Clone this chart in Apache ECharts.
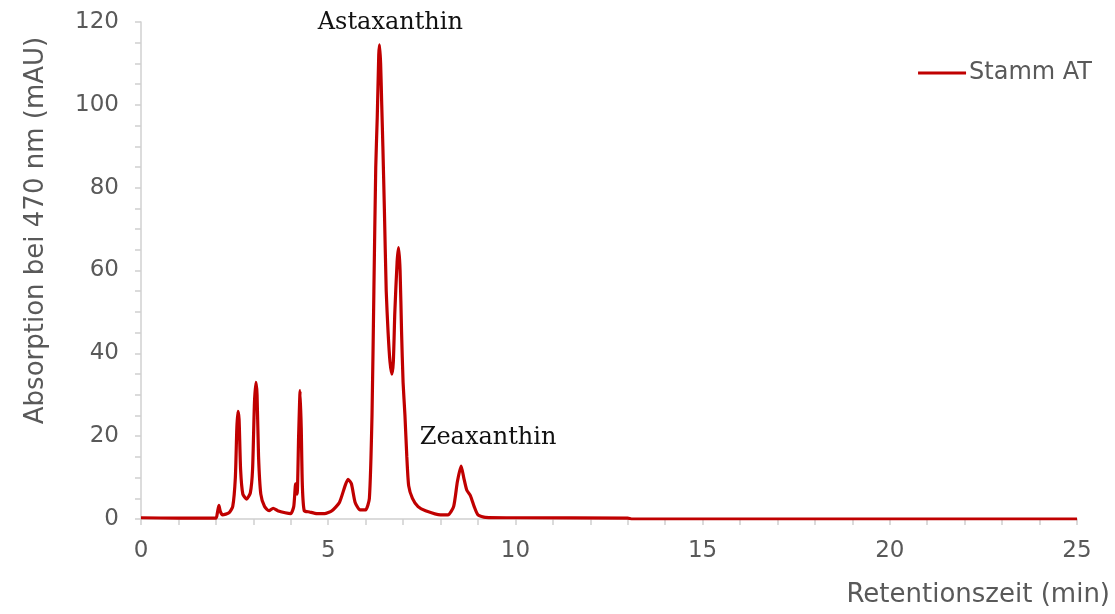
<!DOCTYPE html>
<html>
<head>
<meta charset="utf-8">
<script src="https://cdn.jsdelivr.net/npm/echarts@6/dist/echarts.min.js"></script>
<style>
  html, body { margin: 0; padding: 0; background: #fff; }
  #main { width: 1115px; height: 614px; }
</style>
</head>
<body>
<div id="main"></div>
<script>
// retention time (min) and absorption (mAU)
var times = [0, 1.0, 2.0, 2.04, 2.08, 2.12, 2.18, 2.35, 2.45, 2.52, 2.56, 2.59, 2.62, 2.66, 2.72, 2.82,
  2.92, 2.98, 3.03, 3.07, 3.10, 3.14, 3.2, 3.3, 3.42, 3.53, 3.65, 3.85, 4.0, 4.08, 4.13, 4.17,
  4.21, 4.25, 4.28, 4.31, 4.36, 4.5, 4.7, 4.9, 5.1, 5.3, 5.45, 5.53, 5.62, 5.72, 5.85, 6.0,
  6.1, 6.17, 6.22, 6.27, 6.31, 6.35, 6.37, 6.40, 6.43, 6.46, 6.5, 6.55, 6.6, 6.65, 6.70, 6.74,
  6.78, 6.84, 6.88, 6.92, 6.96, 7.0, 7.05, 7.1, 7.15, 7.25, 7.4, 7.6, 8.0, 8.2, 8.35, 8.45,
  8.55, 8.62, 8.7, 8.8, 8.9, 9.0, 9.2, 10, 13, 13.1, 25];
var absorb = [0.3, 0.2, 0.2, 1.5, 3.3, 1.8, 1.0, 1.5, 3, 10, 22, 26, 24, 12, 6, 4.8,
  6.3, 12, 28, 33, 30, 15, 6, 3, 2, 2.6, 2, 1.5, 1.3, 3, 8.5, 6,
  20, 31, 22, 8, 2, 1.7, 1.3, 1.3, 2, 4, 8, 9.6, 8.5, 4, 2.2, 2.2,
  5, 25, 55, 85, 97, 112, 114.5, 110, 100, 90, 75, 55, 45, 38, 35, 38,
  50, 62, 65.5, 60, 45, 33, 25, 15, 8, 5, 3, 2, 1, 1, 3, 9,
  12.8, 10, 7, 5.6, 3, 1, 0.4, 0.3, 0.2, 0, 0];
var seriesName = 'Stamm AT';
var peakNames = ['Astaxanthin', 'Zeaxanthin'];
var peakLabelPos = [[6.66, 119.8], [9.27, 19.6]];
var xTicks = [0, 5, 10, 15, 20, 25];
var yTicks = [0, 20, 40, 60, 80, 100, 120];

var points = times.map(function (t, i) { return [t, absorb[i]]; });
var grey = '#595959';
var axisGrey = '#d0d0d0';
var sans = 'DejaVu Sans';

var chart = echarts.init(document.getElementById('main'), null, { renderer: 'canvas' });
chart.setOption({
  animation: false,
  textStyle: { fontFamily: sans },
  grid: { left: 141, right: 38, top: 22, bottom: 95 },
  legend: {
    right: 18, top: 56,
    icon: 'rect', itemWidth: 48, itemHeight: 3, itemGap: 4,
    textStyle: { color: grey, fontSize: 24, fontFamily: sans, padding: [0, 0, 0, -2] },
    data: [seriesName]
  },
  xAxis: {
    type: 'value',
    min: xTicks[0], max: xTicks[xTicks.length - 1], interval: 5,
    name: 'Retentionszeit (min)',
    nameLocation: 'end', nameGap: 33,
    nameTextStyle: { color: grey, fontSize: 26, fontFamily: sans, align: 'right', verticalAlign: 'top', padding: [63, 0, 0, 0] },
    axisLine: { show: true, lineStyle: { color: axisGrey, width: 1.5 } },
    axisTick: { show: true, length: 6, lineStyle: { color: axisGrey, width: 1.5 } },
    minorTick: { show: true, splitNumber: 5, length: 6, lineStyle: { color: axisGrey, width: 1.5 } },
    splitLine: { show: false },
    axisLabel: { color: grey, fontSize: 23, margin: 21 }
  },
  yAxis: {
    type: 'value',
    min: yTicks[0], max: yTicks[yTicks.length - 1], interval: 20,
    name: 'Absorption bei 470 nm (mAU)',
    nameLocation: 'middle', nameGap: 92,
    nameTextStyle: { color: grey, fontSize: 26, fontFamily: sans, padding: [0, 0, 0, 80] },
    axisLine: { show: true, lineStyle: { color: axisGrey, width: 1.5 } },
    axisTick: { show: true, length: 6, lineStyle: { color: axisGrey, width: 1.5 } },
    minorTick: { show: true, splitNumber: 4, length: 6, lineStyle: { color: axisGrey, width: 1.5 } },
    splitLine: { show: false },
    axisLabel: { color: grey, fontSize: 23, margin: 22 }
  },
  series: [{
    name: seriesName,
    type: 'line',
    data: points,
    showSymbol: false,
    symbol: 'none',
    smooth: 0.2,
    lineStyle: { color: '#C00000', width: 3.2 },
    itemStyle: { color: '#C00000' },
    markPoint: {
      symbol: 'circle', symbolSize: 0,
      label: {
        show: true, position: 'inside',
        color: '#111', fontSize: 24, fontFamily: 'DejaVu Serif',
        formatter: function (p) { return p.name; }
      },
      data: peakNames.map(function (n, i) { return { name: n, coord: peakLabelPos[i] }; })
    }
  }]
});
</script>
</body>
</html>
